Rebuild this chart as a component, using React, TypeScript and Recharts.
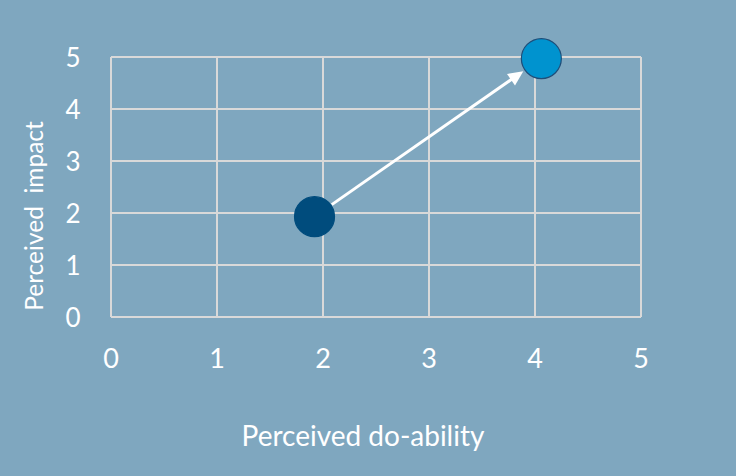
import React from "react";
import {
  CartesianGrid,
  ReferenceLine,
  Scatter,
  ScatterChart,
  XAxis,
  YAxis
} from "recharts";

// before / after positions on the do-ability vs impact grid
const startPoint = [{ doability: 1.92, impact: 1.93 }];
const endPoint = [{ doability: 4.06, impact: 4.97 }];
const axisTicks = [0, 1, 2, 3, 4, 5];

const FONT = "Lato, 'Open Sans', sans-serif";
const BG = "#7fa7bf";
const GRID = "#d9d9d9";
const RADIUS = 20;

function Dot(fill: string, stroke: string) {
  return (props: any) => (
    <circle cx={props.cx} cy={props.cy} r={RADIUS} fill={fill} stroke={stroke} strokeWidth={1.2} />
  );
}

// straight arrow between the two dots, trimmed to the circle edges
function Arrow(props: any) {
  const { x1, y1, x2, y2 } = props;
  if ([x1, y1, x2, y2].some((v) => typeof v !== "number")) return null;
  const dx = x2 - x1;
  const dy = y2 - y1;
  const len = Math.sqrt(dx * dx + dy * dy);
  const ux = dx / len;
  const uy = dy / len;
  const sx = x1 + ux * 21;
  const sy = y1 + uy * 21;
  const tx = x2 - ux * 22;
  const ty = y2 - uy * 22;
  const head = 15;
  const half = 7;
  const bx = tx - ux * head;
  const by = ty - uy * head;
  const pts = `${tx},${ty} ${bx - uy * half},${by + ux * half} ${bx + uy * half},${by - ux * half}`;
  return (
    <g>
      <line x1={sx} y1={sy} x2={bx + ux * 2} y2={by + uy * 2} stroke="#ffffff" strokeWidth={3} />
      <polygon points={pts} fill="#ffffff" />
    </g>
  );
}

function YTick(props: any) {
  const { y, payload } = props;
  return (
    <text x={73} y={y} dy={9.5} textAnchor="middle" fill="#ffffff" fontSize={26} fontFamily={FONT}>
      {payload.value}
    </text>
  );
}

function XTick(props: any) {
  const { x, payload } = props;
  return (
    <text x={x} y={368} textAnchor="middle" fill="#ffffff" fontSize={27} fontFamily={FONT}>
      {payload.value}
    </text>
  );
}

export default function App() {
  return (
    <div style={{ position: "absolute", left: 0, top: 0, width: 736, height: 476, background: BG }}>
      <ScatterChart width={736} height={476} margin={{ top: 57, right: 95, bottom: 0, left: 0 }}>
        <CartesianGrid stroke={GRID} strokeWidth={2} />
        <XAxis
          type="number"
          dataKey="doability"
          domain={[0, 5]}
          ticks={axisTicks}
          height={159}
          axisLine={false}
          tickLine={false}
          tick={XTick}
        />
        <YAxis
          type="number"
          dataKey="impact"
          domain={[0, 5]}
          ticks={axisTicks}
          width={111}
          axisLine={false}
          tickLine={false}
          tick={YTick}
        />
        <ReferenceLine
          segment={[
            { x: startPoint[0].doability, y: startPoint[0].impact },
            { x: endPoint[0].doability, y: endPoint[0].impact }
          ]}
          shape={Arrow}
          ifOverflow="visible"
        />
        <Scatter data={startPoint} fill="#004c7d" shape={Dot("#004c7d", "#004c7d")} isAnimationActive={false} />
        <Scatter data={endPoint} fill="#0093cf" shape={Dot("#0093cf", "#1f4e79")} isAnimationActive={false} />
        <text
          x={363}
          y={446}
          textAnchor="middle"
          fill="#ffffff"
          fontSize={28}
          fontFamily={FONT}
        >
          Perceived do-ability
        </text>
        <text
          x={0}
          y={0}
          transform="translate(43 216) rotate(-90)"
          textAnchor="middle"
          fill="#ffffff"
          fontSize={24.5}
          fontFamily={FONT}
          style={{ whiteSpace: "pre" }}
        >
          {"Perceived  impact"}
        </text>
      </ScatterChart>
    </div>
  );
}
